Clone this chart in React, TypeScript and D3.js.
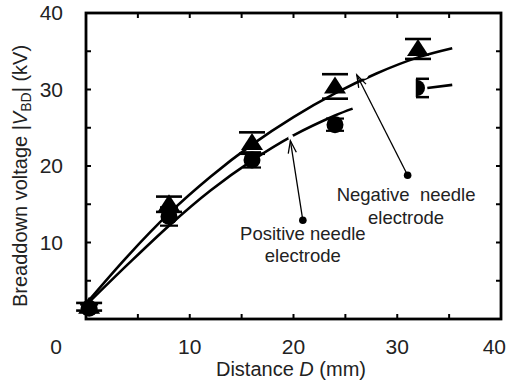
import * as d3 from 'd3';

// measured points (distance in mm, |V_BD| in kV)
const distances = [0.3, 8, 16, 24, 32];
const negVoltage = [1.6, 15.0, 23.0, 30.4, 35.3];
const negError = [0.5, 1.0, 1.4, 1.6, 1.3];
const posVoltage = [1.4, 13.4, 20.8, 25.4, 30.2];
const posError = [0.5, 1.2, 1.0, 0.8, 1.2];

// fitted curves
const negFitD = [0, 4, 8, 12, 16, 20, 24, 28, 32, 35.3];
const negFitV = [2.0, 8.2, 13.8, 18.6, 22.8, 26.4, 29.5, 32.1, 34.2, 35.4];
const posFitD = [0, 4, 8, 12, 16, 20, 24, 25.7];
const posFitV = [1.8, 7.1, 12.2, 16.8, 20.7, 24.0, 26.6, 27.5];
const posTailD = [32.9, 35.3];
const posTailV = [30.2, 30.6];

const xTicks = [0, 10, 20, 30, 40];
const yTicks = [10, 20, 30, 40];
const minorTicks = [0, 5, 10, 15, 20, 25, 30, 35, 40];

const W = 507;
const H = 383;
const font = "'Liberation Sans', Arial, sans-serif";

export default function App() {
  const x = d3.scaleLinear().domain([0, 40]).range([86, 501]);
  const y = d3.scaleLinear().domain([0, 40]).range([319, 13]);

  const line = d3
    .line<[number, number]>()
    .x((d) => x(d[0]))
    .y((d) => y(d[1]))
    .curve(d3.curveCatmullRom);

  const zip = (a: number[], b: number[]) => a.map((v, i) => [v, b[i]] as [number, number]);

  const tri = (cx: number, cy: number) =>
    `M${cx},${cy - 10}L${cx + 11},${cy + 7}L${cx - 11},${cy + 7}Z`;

  // open arrow from a dot to a tip
  const arrow = (from: [number, number], to: [number, number]) => {
    const x0 = x(from[0]), y0 = y(from[1]);
    const x1 = x(to[0]), y1 = y(to[1]);
    const a = Math.atan2(y0 - y1, x0 - x1);
    const len = 13, spread = 0.32;
    const h1 = [x1 + len * Math.cos(a - spread), y1 + len * Math.sin(a - spread)];
    const h2 = [x1 + len * Math.cos(a + spread), y1 + len * Math.sin(a + spread)];
    return (
      <g stroke="#000" strokeWidth={1.3} fill="none">
        <line x1={x0} y1={y0} x2={x1} y2={y1} />
        <polyline points={`${h1[0]},${h1[1]} ${x1},${y1} ${h2[0]},${h2[1]}`} />
        <circle cx={x0} cy={y0} r={3.8} fill="#000" stroke="none" />
      </g>
    );
  };

  const tickLen = 5;

  return (
    <svg width={W} height={H} style={{ position: 'absolute', left: 0, top: 0 }} fontFamily={font}>
      <rect width={W} height={H} fill="#fff" />

      {/* fit curves */}
      <g fill="none" stroke="#000" strokeWidth={2.6}>
        <path d={line(zip(negFitD, negFitV)) || ''} />
        <path d={line(zip(posFitD, posFitV)) || ''} />
        <path d={line(zip(posTailD, posTailV)) || ''} />
      </g>
      {/* breaks in the curves around the arrow tips */}
      <circle cx={x(26.8)} cy={y(32.0)} r={4.5} fill="#fff" />
      <circle cx={x(19.75)} cy={y(23.75)} r={2.6} fill="#fff" />

      {/* negative needle: triangles with error caps */}
      <g fill="#000" stroke="#000">
        {distances.map((d, i) => {
          const cx = x(d), cy = y(negVoltage[i]);
          return (
            <g key={'n' + i}>
              <path d={tri(cx, cy)} stroke="none" />
              <line x1={cx - 13} x2={cx + 13} y1={y(negVoltage[i] + negError[i])} y2={y(negVoltage[i] + negError[i])} strokeWidth={2.6} />
              <line x1={cx - 13} x2={cx + 13} y1={y(negVoltage[i] - negError[i])} y2={y(negVoltage[i] - negError[i])} strokeWidth={2.6} />
            </g>
          );
        })}
      </g>

      {/* positive needle: circles with error caps */}
      <g fill="#000" stroke="#000">
        {distances.map((d, i) => {
          const cx = x(d), cy = y(posVoltage[i]);
          const top = y(posVoltage[i] + posError[i]);
          const bot = y(posVoltage[i] - posError[i]);
          if (i === distances.length - 1) {
            return (
              <g key={'p' + i}>
                <path d={`M${cx - 1},${cy - 8}A8,8 0 0 1 ${cx - 1},${cy + 8}Z`} stroke="none" />
                <line x1={cx - 1} x2={cx - 1} y1={top} y2={bot} strokeWidth={2.5} />
                <line x1={cx - 2} x2={cx + 11} y1={top} y2={top} strokeWidth={2.5} />
                <line x1={cx - 2} x2={cx + 11} y1={bot} y2={bot} strokeWidth={2.5} />
              </g>
            );
          }
          return (
            <g key={'p' + i}>
              <circle cx={cx} cy={cy} r={8.5} stroke="none" />
              <line x1={cx} x2={cx} y1={top} y2={bot} strokeWidth={2} />
              <line x1={cx - 9} x2={cx + 9} y1={top} y2={top} strokeWidth={2.2} />
              <line x1={cx - 9} x2={cx + 9} y1={bot} y2={bot} strokeWidth={2.2} />
            </g>
          );
        })}
      </g>

      {/* annotations */}
      {arrow([31.0, 18.8], [26.1, 31.9])}
      {arrow([20.9, 12.9], [19.7, 23.3])}
      <g fontSize={18.5} textAnchor="middle" fill="#222">
        <text x={x(30.85)} y={201} xmlSpace="preserve">Negative  needle</text>
        <text x={x(30.85)} y={224}>electrode</text>
        <text x={x(20.9)} y={240}>Positive needle</text>
        <text x={x(20.9)} y={262}>electrode</text>
      </g>

      {/* frame and inward ticks */}
      <rect x={x(0)} y={y(40)} width={x(40) - x(0)} height={y(0) - y(40)} fill="none" stroke="#000" strokeWidth={2.8} />
      <g stroke="#000" strokeWidth={2}>
        {minorTicks.map((t) => (
          <g key={'t' + t}>
            <line x1={x(t)} x2={x(t)} y1={y(0)} y2={y(0) - tickLen} />
            <line x1={x(t)} x2={x(t)} y1={y(40)} y2={y(40) + tickLen} />
            <line x1={x(0)} x2={x(0) + tickLen} y1={y(t)} y2={y(t)} />
            <line x1={x(40)} x2={x(40) - tickLen} y1={y(t)} y2={y(t)} />
          </g>
        ))}
      </g>

      {/* tick labels */}
      <g fontSize={21} fill="#222">
        {xTicks.map((t) => {
          const px = t === 0 ? x(t) - 30 : t === 40 ? W - 1 : x(t);
          return (
            <text key={'x' + t} x={px} y={354} textAnchor={t === 40 ? 'end' : 'middle'}>
              {t}
            </text>
          );
        })}
        {yTicks.map((t) => (
          <text key={'y' + t} x={63} y={y(t) + 7} textAnchor="end">
            {t}
          </text>
        ))}
      </g>

      {/* axis titles */}
      <text x={291} y={376} fontSize={20} textAnchor="middle" fill="#222">
        Distance <tspan fontStyle="italic">D</tspan> (mm)
      </text>
      <text transform="translate(27,176) rotate(-90)" fontSize={20} textAnchor="middle" fill="#222">
        Breaddown voltage |<tspan fontStyle="italic">V</tspan>
        <tspan fontSize={14} dy={4}>BD</tspan>
        <tspan dy={-4}>| (kV)</tspan>
      </text>
    </svg>
  );
}
